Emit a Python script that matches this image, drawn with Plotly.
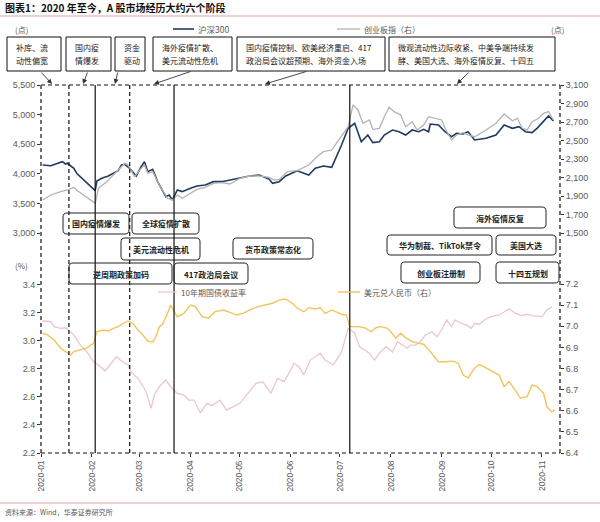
import plotly.graph_objects as go

# ---------------- data ----------------
hs300_dates = ["2020-01-02","2020-01-07","2020-01-14","2020-01-16","2020-01-17","2020-01-21","2020-01-23",
    "2020-02-03","2020-02-04","2020-02-07","2020-02-11","2020-02-14","2020-02-17","2020-02-19","2020-02-21",
    "2020-02-24","2020-02-28","2020-03-02","2020-03-04","2020-03-06","2020-03-09","2020-03-12","2020-03-17",
    "2020-03-19","2020-03-21","2020-03-24","2020-03-27","2020-04-01","2020-04-05","2020-04-10","2020-04-15",
    "2020-04-20","2020-04-25","2020-05-01","2020-05-07","2020-05-13","2020-05-19","2020-05-21","2020-05-25",
    "2020-05-29","2020-06-05","2020-06-12","2020-06-16","2020-06-21","2020-06-26","2020-07-02","2020-07-06",
    "2020-07-10","2020-07-14","2020-07-18","2020-07-21","2020-07-25","2020-07-28","2020-08-02","2020-08-06",
    "2020-08-10","2020-08-14","2020-08-18","2020-08-21","2020-08-24","2020-08-25","2020-08-30","2020-09-03",
    "2020-09-07","2020-09-10","2020-09-14","2020-09-17","2020-09-21","2020-09-28","2020-10-04","2020-10-09",
    "2020-10-14","2020-10-18","2020-10-22","2020-10-26","2020-10-29","2020-11-02","2020-11-05","2020-11-08"]
hs300_values = [4149,4137,4205,4166,4178,4093,4000,
    3715,3878,3924,3963,4008,4052,4149,4160,
    4093,3963,4120,4205,4036,4076,3867,3613,
    3642,3558,3727,3699,3755,3794,3811,3867,
    3867,3896,3941,3963,3980,3907,3840,3867,
    3963,4050,3980,4093,4132,4110,4487,4768,
    4853,4542,4655,4526,4542,4655,4740,4711,
    4655,4740,4711,4752,4711,4841,4824,4711,
    4627,4684,4672,4711,4571,4600,4655,4824,
    4768,4796,4711,4695,4768,4880,4976,4892]

chinext_dates = ["2020-01-02","2020-01-07","2020-01-13","2020-01-17","2020-01-21","2020-01-23",
    "2020-02-03","2020-02-05","2020-02-10","2020-02-16","2020-02-21","2020-02-23","2020-02-27","2020-03-02",
    "2020-03-04","2020-03-06","2020-03-09","2020-03-13","2020-03-18","2020-03-21","2020-03-24","2020-03-27",
    "2020-04-01","2020-04-05","2020-04-10","2020-04-15","2020-04-20","2020-04-25","2020-05-01","2020-05-07",
    "2020-05-13","2020-05-19","2020-05-22","2020-05-25","2020-05-30","2020-06-05","2020-06-12","2020-06-17",
    "2020-06-21","2020-06-26","2020-07-01","2020-07-06","2020-07-09","2020-07-12","2020-07-15","2020-07-19",
    "2020-07-21","2020-07-25","2020-07-28","2020-07-31","2020-08-03","2020-08-07","2020-08-10","2020-08-14",
    "2020-08-17","2020-08-21","2020-08-24","2020-08-28","2020-09-01","2020-09-03","2020-09-07","2020-09-10",
    "2020-09-14","2020-09-17","2020-09-21","2020-09-28","2020-10-04","2020-10-09","2020-10-14","2020-10-17",
    "2020-10-20","2020-10-23","2020-10-26","2020-10-30","2020-11-02","2020-11-05","2020-11-08"]
chinext_values = [1857,1911,1947,1965,1994,1960,
    1821,1983,2055,2163,2254,2235,2109,2199,
    2235,2145,2163,2019,1875,1857,1911,1875,
    1929,1972,1994,2037,2044,2030,2091,2116,
    2116,2102,2073,2080,2163,2174,2235,2325,
    2379,2397,2524,2649,2884,2830,2686,2722,
    2621,2632,2757,2859,2812,2776,2649,2703,
    2614,2668,2757,2740,2722,2632,2505,2560,
    2584,2560,2541,2614,2686,2787,2714,2740,
    2632,2614,2703,2740,2794,2812,2722]

cgb10y_dates = ["2020-01-02","2020-01-07","2020-01-09","2020-01-13","2020-01-16","2020-01-19","2020-01-21",
    "2020-01-25","2020-01-29","2020-02-02","2020-02-05","2020-02-09","2020-02-12","2020-02-14","2020-02-16",
    "2020-02-19","2020-02-23","2020-02-25","2020-02-29","2020-03-02","2020-03-05","2020-03-08","2020-03-10",
    "2020-03-13","2020-03-17","2020-03-20","2020-03-24","2020-03-28","2020-03-31","2020-04-03","2020-04-07",
    "2020-04-11","2020-04-14","2020-04-19","2020-04-23","2020-04-27","2020-05-01","2020-05-06","2020-05-11",
    "2020-05-15","2020-05-20","2020-05-24","2020-05-28","2020-06-01","2020-06-03","2020-06-06","2020-06-09",
    "2020-06-13","2020-06-16","2020-06-19","2020-06-22","2020-06-27","2020-07-02","2020-07-06","2020-07-10",
    "2020-07-13","2020-07-16","2020-07-19","2020-07-22","2020-07-25","2020-07-29","2020-08-02","2020-08-05",
    "2020-08-08","2020-08-11","2020-08-13","2020-08-16","2020-08-19","2020-08-22","2020-08-26","2020-08-29",
    "2020-09-01","2020-09-04","2020-09-07","2020-09-09","2020-09-13","2020-09-16","2020-09-19","2020-09-21",
    "2020-09-24","2020-09-27","2020-10-01","2020-10-06","2020-10-12","2020-10-16","2020-10-20","2020-10-23",
    "2020-10-26","2020-11-01","2020-11-04","2020-11-07"]
cgb10y_values = [3.140,3.135,3.100,3.088,3.092,3.064,3.040,
    2.970,2.920,2.850,2.827,2.784,2.827,2.862,2.886,
    2.855,2.827,2.775,2.732,2.696,2.637,2.518,2.613,
    2.672,2.720,2.672,2.625,2.613,2.577,2.577,2.487,
    2.554,2.537,2.577,2.506,2.530,2.554,2.625,2.696,
    2.708,2.625,2.732,2.708,2.790,2.839,2.815,2.756,
    2.862,2.886,2.910,2.862,2.827,2.920,3.088,3.053,
    2.957,2.934,2.910,2.862,2.910,2.957,2.920,2.993,
    2.969,2.946,2.969,2.969,2.993,3.040,3.064,3.028,
    3.076,3.147,3.100,3.147,3.124,3.111,3.088,3.124,
    3.117,3.147,3.171,3.183,3.226,3.195,3.178,3.188,
    3.178,3.171,3.218,3.242]

usdcny_dates = ["2020-01-02","2020-01-05","2020-01-09","2020-01-13","2020-01-16","2020-01-19","2020-01-21",
    "2020-01-25","2020-01-29","2020-02-02","2020-02-04","2020-02-08","2020-02-11","2020-02-14","2020-02-17",
    "2020-02-20","2020-02-23","2020-02-26","2020-02-29","2020-03-03","2020-03-06","2020-03-09","2020-03-11",
    "2020-03-13","2020-03-15","2020-03-18","2020-03-20","2020-03-24","2020-03-28","2020-04-01","2020-04-04",
    "2020-04-08","2020-04-12","2020-04-16","2020-04-21","2020-04-25","2020-04-29","2020-05-03","2020-05-07",
    "2020-05-12","2020-05-17","2020-05-21","2020-05-25","2020-05-29","2020-06-02","2020-06-05","2020-06-09",
    "2020-06-12","2020-06-16","2020-06-19","2020-06-22","2020-06-26","2020-07-02","2020-07-05","2020-07-07",
    "2020-07-12","2020-07-16","2020-07-20","2020-07-23","2020-07-26","2020-07-30","2020-08-01","2020-08-04",
    "2020-08-07","2020-08-10","2020-08-14","2020-08-18","2020-08-21","2020-08-25","2020-08-30","2020-09-03",
    "2020-09-08","2020-09-11","2020-09-14","2020-09-17","2020-09-21","2020-09-24","2020-09-30","2020-10-06",
    "2020-10-09","2020-10-12","2020-10-16","2020-10-19","2020-10-23","2020-10-26","2020-10-29","2020-11-02",
    "2020-11-04","2020-11-07","2020-11-09"]
usdcny_values = [6.967,6.959,6.935,6.896,6.880,6.864,6.880,
    6.888,6.898,6.919,6.974,6.982,6.978,6.990,6.998,
    7.014,7.025,7.014,6.982,6.959,6.930,6.924,6.950,
    6.998,7.009,7.061,7.100,7.045,7.061,7.100,7.093,
    7.045,7.038,7.069,7.077,7.066,7.053,7.061,7.077,
    7.093,7.100,7.109,7.124,7.129,7.109,7.085,7.069,
    7.088,7.082,7.088,7.061,7.077,7.057,7.053,6.998,
    6.998,6.993,6.974,6.993,6.998,6.990,6.974,6.943,
    6.967,6.946,6.927,6.919,6.915,6.880,6.832,6.832,
    6.835,6.825,6.769,6.756,6.801,6.820,6.793,6.769,
    6.714,6.738,6.694,6.659,6.667,6.722,6.714,6.683,
    6.619,6.595,6.604]

phase_dates = ["2020-01-18", "2020-02-03", "2020-02-24", "2020-03-22", "2020-07-07"]
phase_dashed = [True, False, True, False, False]

top_boxes = [
    ["补库、流", "动性偏宽"],
    ["国内疫", "情爆发"],
    ["资金", "驱动"],
    ["海外疫情扩散、", "美元流动性危机"],
    ["国内疫情控制、欧美经济重启、417", "政治局会议超预期、海外资金入场"],
    ["微观流动性边际收紧、中美争端持续发", "酵、美国大选、海外疫情反复、十四五"],
]
event_labels = ["国内疫情爆发", "全球疫情扩散", "美元流动性危机", "货币政策常态化", "逆周期政策加码",
                "417政治局会议", "海外疫情反复", "华为制裁、TikTok禁令", "美国大选", "创业板注册制", "十四五规划"]

# ---------------- layout geometry (pixels) ----------------
L, R, T, B = 41, 560, 85, 453
W, H = R - L, B - T
def px(x): return (x - L) / W
def py(y): return (B - y) / H

top_box_px = [(7, 37, 61, 71), (66, 37, 111, 71), (115, 37, 145, 71), (153, 37, 232, 71),
              (237, 37, 385, 71), (389, 37, 555, 71)]
top_arrows_px = [(40, 71, 52, 84), (88, 71, 83, 84), (118, 71, 115, 84), (192, 71, 154, 84),
                 (308, 71, 265, 84), (470, 71, 457, 84)]
event_box_px = [(63, 213, 129, 234), (132, 213, 199, 234), (121, 238, 200, 260), (233, 238, 313, 259),
                (69, 263, 172, 284), (174, 263, 248, 284), (454, 207, 546, 228), (387, 235, 492, 255),
                (496, 235, 556, 255), (401, 262, 480, 283), (496, 262, 559, 283)]

NAVY = "#1f3a5f"
GREY = "#b3b3b3"
PINK = "#ebc6cc"
GOLD = "#f2c55c"
TXT = "#595959"
CJK = "Noto Sans CJK SC"
LAT = "Liberation Sans"

fig = go.Figure()
fig.add_trace(go.Scatter(x=hs300_dates, y=hs300_values, mode="lines", line=dict(color=NAVY, width=1.6),
                         yaxis="y", name="沪深300"))
fig.add_trace(go.Scatter(x=chinext_dates, y=chinext_values, mode="lines", line=dict(color=GREY, width=1.3),
                         yaxis="y2", name="创业板指（右）"))
fig.add_trace(go.Scatter(x=cgb10y_dates, y=cgb10y_values, mode="lines", line=dict(color=PINK, width=1.3),
                         yaxis="y3", name="10年期国债收益率"))
fig.add_trace(go.Scatter(x=usdcny_dates, y=usdcny_values, mode="lines", line=dict(color=GOLD, width=1.4),
                         yaxis="y4", name="美元兑人民币（右）"))

top_dom = [py(233), 1.0]
bot_dom = [0.0, py(270)]
tickfont = dict(family=LAT, size=9, color=TXT)

fig.update_layout(
    width=600, height=522,
    margin=dict(l=L, r=600 - R, t=T, b=522 - B),
    paper_bgcolor="white", plot_bgcolor="white",
    showlegend=False, hovermode=False,
    xaxis=dict(type="date", range=["2020-01-01", "2020-11-12"], anchor="y3",
               dtick="M1", tick0="2020-01-01", tickformat="%Y-%m", tickangle=-90,
               tickfont=dict(family=LAT, size=8.5, color=TXT), showgrid=False, zeroline=False,
               showline=False, ticks="outside", ticklen=3, tickcolor="#333", automargin=False),
    yaxis=dict(domain=top_dom, range=[3000, 5500], tickvals=[3000, 3500, 4000, 4500, 5000, 5500],
               tickformat=",", tickfont=tickfont, showgrid=False, zeroline=False, showline=False,
               ticks="outside", ticklen=3, tickcolor="#333", anchor="x", automargin=False),
    yaxis2=dict(domain=top_dom, range=[1500, 3100], tickvals=list(range(1500, 3101, 200)),
                tickformat=",", tickfont=tickfont, showgrid=False, zeroline=False, showline=False,
                side="right", overlaying="y", anchor="x", ticks="outside", ticklen=3, tickcolor="#333",
                automargin=False),
    yaxis3=dict(domain=bot_dom, range=[2.2, 2.2 + 183 / 140.4], tickvals=[2.2, 2.4, 2.6, 2.8, 3.0, 3.2, 3.4],
                tickformat=".1f", tickfont=tickfont, showgrid=False, zeroline=False, showline=False,
                ticks="outside", ticklen=3, tickcolor="#333", anchor="x", automargin=False),
    yaxis4=dict(domain=bot_dom, range=[6.4, 6.4 + 183 / 211.25],
                tickvals=[6.4, 6.5, 6.6, 6.7, 6.8, 6.9, 7.0, 7.1, 7.2],
                tickformat=".1f", tickfont=tickfont, showgrid=False, zeroline=False, showline=False,
                side="right", overlaying="y3", anchor="x", ticks="outside", ticklen=3, tickcolor="#333",
                automargin=False),
)

shapes = []
dash = "4px,3px"
blk = "#111111"
# dashed frame
shapes.append(dict(type="line", xref="paper", yref="paper", x0=0, x1=1, y0=1, y1=1, line=dict(color=blk, width=1.2, dash=dash)))
shapes.append(dict(type="line", xref="paper", yref="paper", x0=0, x1=1, y0=0, y1=0, line=dict(color=blk, width=1.2, dash=dash)))
shapes.append(dict(type="line", xref="paper", yref="paper", x0=0, x1=0, y0=0, y1=1, line=dict(color=blk, width=1.2, dash=dash)))
shapes.append(dict(type="line", xref="paper", yref="paper", x0=1, x1=1, y0=0, y1=1, line=dict(color=blk, width=1.2, dash=dash)))
# phase lines
for d, isd in zip(phase_dates, phase_dashed):
    shapes.append(dict(type="line", xref="x", yref="paper", x0=d, x1=d, y0=0, y1=1,
                       line=dict(color=blk, width=1.2, dash=dash if isd else "solid")))
# title rule and bottom rule
shapes.append(dict(type="line", xref="paper", yref="paper", x0=px(0), x1=px(600), y0=py(16), y1=py(16),
                   line=dict(color="#d9a3a3", width=1)))
shapes.append(dict(type="line", xref="paper", yref="paper", x0=px(0), x1=px(600), y0=py(503), y1=py(503),
                   line=dict(color="#d9a3a3", width=1)))
# top boxes
for (x0, y0, x1, y1) in top_box_px:
    shapes.append(dict(type="rect", xref="paper", yref="paper", x0=px(x0), x1=px(x1), y0=py(y1), y1=py(y0),
                       line=dict(color=blk, width=1), fillcolor="rgba(0,0,0,0)"))

def rrect(x0, y0, x1, y1, r=4):
    pts = lambda x, y: f"{px(x):.5f},{py(y):.5f}"
    return (f"M {pts(x0 + r, y0)} L {pts(x1 - r, y0)} Q {pts(x1, y0)} {pts(x1, y0 + r)} "
            f"L {pts(x1, y1 - r)} Q {pts(x1, y1)} {pts(x1 - r, y1)} L {pts(x0 + r, y1)} "
            f"Q {pts(x0, y1)} {pts(x0, y1 - r)} L {pts(x0, y0 + r)} Q {pts(x0, y0)} {pts(x0 + r, y0)} Z")

for (x0, y0, x1, y1) in event_box_px:
    shapes.append(dict(type="path", xref="paper", yref="paper", path=rrect(x0, y0, x1, y1),
                       line=dict(color="#222", width=1), fillcolor="rgba(0,0,0,0)"))

# legend lines
legend_lines = [(173, 194, 29, NAVY, 1.6), (337, 360, 29, GREY, 1.3), (158, 177, 292, PINK, 1.3), (338, 360, 292, GOLD, 1.4)]
for (x0, x1, y, c, w) in legend_lines:
    shapes.append(dict(type="line", xref="paper", yref="paper", x0=px(x0), x1=px(x1), y0=py(y), y1=py(y),
                       line=dict(color=c, width=w)))

annotations = []
def text(x, y, s, size=8, color=TXT, anchor="left", fam=CJK):
    annotations.append(dict(xref="paper", yref="paper", x=px(x), y=py(y), text=s, showarrow=False,
                            xanchor=anchor, yanchor="middle", font=dict(family=fam, size=size, color=color)))

text(3, 8, "<b>图表1：2020 年至今，A 股市场经历大约六个阶段</b>", size=10, color="#111")
text(3, 512, "资料来源：Wind，华泰证券研究所", size=7, color=TXT)
text(13, 29, "(点)", size=8)
text(549, 29, "(点)", size=8)
text(13, 265, "(%)", size=8)
text(196, 29, "沪深300", size=8.5)
text(362, 29, "创业板指（右）", size=8)
text(179, 292, "10年期国债收益率", size=8)
text(362, 292, "美元兑人民币（右）", size=8)

for (x0, y0, x1, y1), lines in zip(top_box_px, top_boxes):
    text(x0 + 7, 47, lines[0], size=8, color="#222")
    text(x0 + 7, 60, lines[1], size=8, color="#222")

for (x0, y0, x1, y1), lab in zip(event_box_px, event_labels):
    text((x0 + x1) / 2, (y0 + y1) / 2 + 0.5, f"<b>{lab}</b>", size=8, color="#222", anchor="center")

for (x0, y0, x1, y1) in top_arrows_px:
    annotations.append(dict(xref="paper", yref="paper", x=px(x1), y=py(y1), text="", showarrow=True,
                            ax=x0 - x1, ay=y0 - y1, axref="pixel", ayref="pixel",
                            arrowhead=2, arrowsize=1.1, arrowwidth=0.9, arrowcolor="#333", standoff=0))

fig.update_layout(shapes=shapes, annotations=annotations)
fig.write_html("out.html", config={"displayModeBar": False},
               post_script="document.body.style.margin='0';document.body.style.overflow='hidden';")
